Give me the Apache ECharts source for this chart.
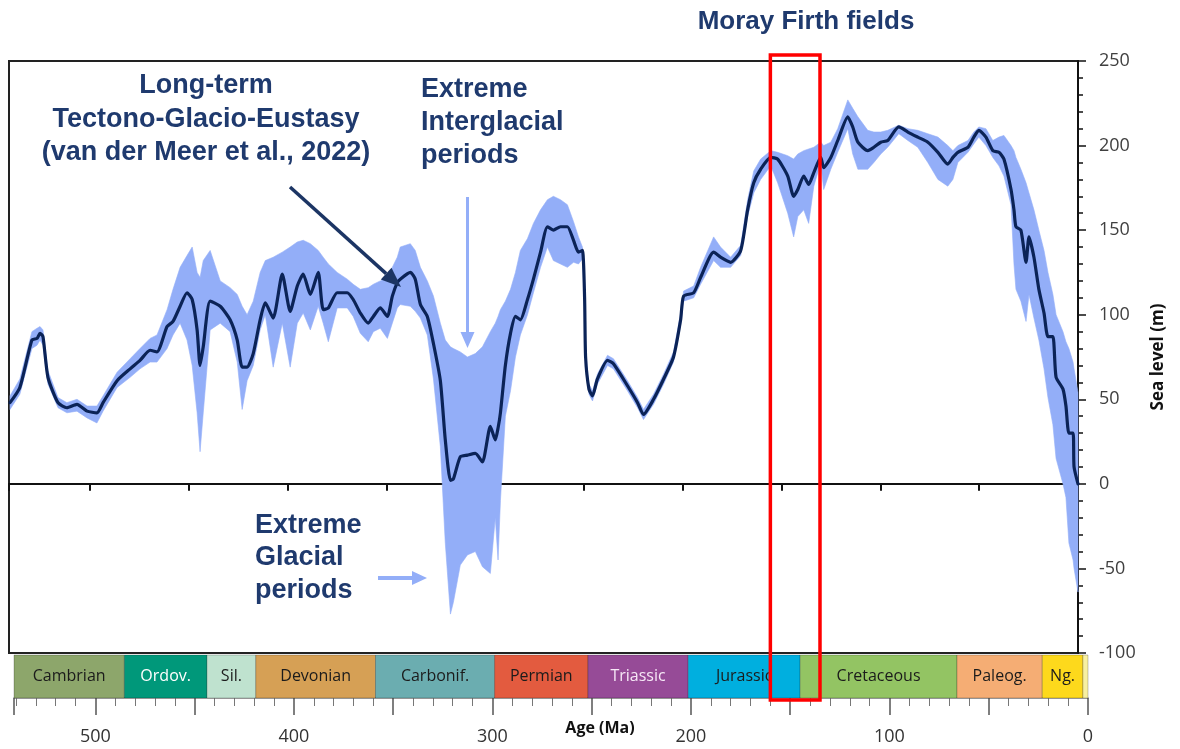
<!DOCTYPE html>
<html>
<head>
<meta charset="utf-8">
<script src="https://cdn.jsdelivr.net/npm/echarts@6/dist/echarts.min.js"></script>
<style>
  html, body { margin: 0; padding: 0; background: #ffffff; }
  #chart { width: 1180px; height: 749px; }
</style>
</head>
<body>
<div id="chart"></div>
<script>
// Phanerozoic long-term sea level (m) against age (Ma)
const ageMa = [540.5, 535.5, 529.4, 526.8, 525.3, 523.8, 521.3, 516.2, 511.7, 506.6, 501.5, 496.5, 493.4, 486.3, 479.7, 474.7, 469.6, 466.1, 461.0, 458.0, 454.4, 450.9, 448.3, 445.8, 444.3, 442.7, 439.2, 434.1, 429.1, 425.5, 423.0, 420.5, 417.4, 413.9, 411.3, 407.3, 402.7, 398.7, 395.1, 392.1, 388.5, 384.5, 382.0, 379.4, 374.9, 369.8, 366.8, 363.2, 359.2, 356.6, 353.1, 349.5, 347.0, 344.5, 343.0, 337.9, 335.4, 332.8, 329.3, 326.2, 322.7, 320.2, 317.6, 316.1, 312.6, 309.0, 305.0, 301.4, 297.4, 294.9, 293.5, 292.3, 289.8, 287.2, 284.7, 282.2, 278.6, 275.6, 272.0, 268.5, 265.5, 261.9, 258.4, 255.3, 252.8, 250.8, 249.7, 249.2, 247.5, 245.7, 243.2, 238.1, 235.1, 228.0, 222.9, 219.9, 214.8, 209.7, 204.7, 201.1, 199.6, 194.5, 191.0, 184.4, 180.9, 175.8, 170.7, 167.2, 164.1, 160.6, 155.5, 152.0, 146.9, 143.9, 141.8, 138.8, 136.3, 133.7, 130.2, 128.7, 125.1, 121.6, 116.5, 114.0, 111.4, 106.4, 103.3, 99.8, 96.3, 90.7, 86.1, 81.1, 76.0, 70.9, 65.9, 63.3, 60.8, 55.7, 52.7, 50.2, 46.6, 43.1, 40.0, 37.5, 33.9, 32.4, 31.4, 28.9, 26.3, 24.8, 22.3, 19.8, 17.2, 15.2, 12.7, 11.1, 7.6, 6.1, 4.6, 2.5, 2.0, 0];

const seaLevel = [48, 57, 85, 86, 89, 87, 63, 48, 45, 47, 43, 42, 48, 61, 68, 73, 79, 78, 93, 96, 105, 113, 109, 91, 70, 81, 108, 105, 97, 85, 69, 69, 77, 97, 107, 98, 124, 102, 117, 124, 112, 125, 103, 104, 113, 113, 109, 101, 95, 99, 104, 99, 111, 119, 121, 125, 121, 106, 99, 83, 61, 26, 2, 3, 16, 17, 18, 13, 34, 26, 33, 42, 70, 89, 99, 97, 109, 121, 137, 152, 150, 152, 152, 144, 137, 138, 110, 75, 56, 52, 62, 73, 71, 58, 48, 41, 50, 62, 75, 97, 111, 113, 122, 137, 134, 131, 138, 162, 178, 186, 193, 192, 182, 170, 174, 182, 177, 184, 193, 187, 193, 203, 217, 211, 202, 197, 199, 202, 203, 211, 208, 205, 202, 196, 189, 193, 196, 199, 205, 209, 205, 197, 196, 192, 174, 162, 152, 150, 131, 146, 134, 115, 101, 87, 87, 63, 56, 46, 30, 30, 10, 0];

const seaLevelHigh = [52, 62, 90, 92, 93, 91, 67, 51, 48, 50, 46, 46, 52, 66, 74, 80, 86, 88, 103, 115, 128, 135, 140, 125, 122, 132, 138, 120, 116, 112, 105, 100, 108, 125, 132, 134, 137, 140, 143, 144, 142, 138, 134, 130, 125, 121, 118, 115, 116, 118, 120, 122, 128, 134, 140, 142, 138, 128, 120, 111, 95, 85, 81, 80, 78, 75, 77, 81, 90, 95, 99, 103, 108, 115, 125, 138, 145, 154, 162, 168, 170, 168, 165, 155, 146, 140, 114, 78, 59, 55, 65, 76, 74, 61, 51, 44, 53, 65, 78, 101, 114, 117, 128, 146, 140, 134, 141, 168, 185, 192, 197, 196, 194, 192, 195, 197, 198, 199, 202, 200, 202, 210, 227, 222, 217, 209, 208, 208, 209, 212, 210, 209, 207, 205, 200, 197, 200, 203, 208, 211, 210, 203, 205, 206, 200, 197, 193, 186, 178, 172, 162, 150, 138, 125, 112, 100, 90, 84, 80, 72, 68, 54];

const seaLevelLow = [44, 53, 80, 82, 85, 82, 59, 45, 42, 43, 39, 36, 43, 57, 63, 68, 72, 72, 80, 88, 95, 85, 70, 42, 19, 42, 91, 95, 90, 72, 44, 61, 70, 91, 100, 69, 95, 69, 95, 101, 91, 105, 95, 84, 104, 104, 99, 89, 84, 90, 92, 86, 95, 104, 106, 105, 102, 98, 88, 62, 22, -35, -77, -70, -48, -42, -40, -49, -53, -20, -45, -10, 40, 55, 75, 88, 100, 113, 128, 140, 132, 130, 128, 131, 130, 133, 107, 72, 53, 49, 59, 70, 68, 55, 45, 38, 47, 59, 72, 94, 108, 110, 118, 132, 128, 128, 135, 158, 172, 180, 188, 178, 160, 146, 158, 162, 154, 176, 190, 174, 186, 196, 210, 195, 186, 186, 190, 195, 199, 207, 203, 199, 190, 180, 176, 180, 190, 196, 201, 205, 200, 193, 188, 182, 165, 130, 115, 108, 96, 112, 98, 85, 68, 51, 35, 15, 0, -8, -35, -45, -50, -64];

// Geological periods shown in the time-scale strip
const periodNames = ['Cambrian', 'Ordov.', 'Sil.', 'Devonian', 'Carbonif.', 'Permian', 'Triassic', 'Jurassic', 'Cretaceous', 'Paleog.', 'Ng.', ''];
const periodStartMa = [541, 485.4, 443.8, 419.2, 358.9, 298.9, 251.9, 201.4, 145, 66, 23.03, 2.58];
const periodEndMa = [485.4, 443.8, 419.2, 358.9, 298.9, 251.9, 201.4, 145, 66, 23.03, 2.58, 0];

// Moray Firth fields age window (Ma)
const morayFirthMa = [160, 135];

// Axis ranges and tick steps
const ageRangeMa = [0, 541];
const seaLevelRange = [-100, 250];
const seaLevelStep = 50;
const ageStep = 50;

// Styling
const periodFill = ['#8DA66B', '#00987A', '#BFE2CF', '#D6A055', '#6BADB0', '#E35B3F', '#964B97', '#00AFDF', '#93C463', '#F5AD74', '#FDD91C', '#F8F0A0'];
const periodInk = ['#1b1b1b', '#ffffff', '#1b1b1b', '#1b1b1b', '#1b1b1b', '#1b1b1b', '#f6e8f6', '#1b1b1b', '#1b1b1b', '#1b1b1b', '#1b1b1b', '#1b1b1b'];
const navy = '#1F3A6E';
const lineNavy = '#0B2357';
const bandBlue = '#93AEF8';

const chart = echarts.init(document.getElementById('chart'), null, { renderer: 'canvas' });

// Uncertainty envelope: one polygon, upper bound left-to-right then lower bound back
function renderEnvelope(params, api) {
  if (params.dataIndex !== 0) return null;
  const upper = ageMa.map((a, i) => api.coord([a, seaLevelHigh[i]]));
  const lower = ageMa.map((a, i) => api.coord([a, seaLevelLow[i]])).reverse();
  return {
    type: 'polygon',
    shape: { points: upper.concat(lower) },
    style: { fill: bandBlue, stroke: bandBlue, lineWidth: 0.6 }
  };
}

function renderPeriod(params, api) {
  const i = params.dataIndex;
  const p0 = api.coord([api.value(0), 1]);
  const p1 = api.coord([api.value(1), 0]);
  return {
    type: 'group',
    children: [
      {
        type: 'rect',
        shape: { x: p0[0], y: p0[1], width: p1[0] - p0[0], height: p1[1] - p0[1] },
        style: { fill: periodFill[i], stroke: 'rgba(0,0,0,0.22)', lineWidth: 1 }
      },
      {
        type: 'text',
        style: {
          x: (p0[0] + p1[0]) / 2,
          y: (p0[1] + p1[1]) / 2,
          text: periodNames[i],
          align: 'center', verticalAlign: 'middle',
          textAlign: 'center', textVerticalAlign: 'middle',
          fill: periodInk[i],
          fontFamily: 'Open Sans', fontSize: 16
        }
      }
    ]
  };
}

chart.setOption({
  animation: false,
  backgroundColor: '#ffffff',
  grid: [
    { left: 9, right: 102, top: 61, bottom: 96, show: true, borderColor: '#222', borderWidth: 2, backgroundColor: 'transparent' },
    { left: 14, right: 92, top: 655, bottom: 51 }
  ],
  xAxis: [
    {
      gridIndex: 0, type: 'value', inverse: true,
      min: ageRangeMa[0], max: ageRangeMa[1], interval: ageStep,
      axisLine: { onZero: true, lineStyle: { color: '#111', width: 2 } },
      axisTick: { show: true, length: 7, lineStyle: { color: '#111', width: 2 } },
      axisLabel: { show: false },
      splitLine: { show: false }
    },
    {
      gridIndex: 1, type: 'value', inverse: true,
      min: ageRangeMa[0], max: ageRangeMa[1], interval: ageStep,
      axisLine: { show: true, lineStyle: { color: '#8a8a8a', width: 1.5 } },
      axisTick: { show: true, length: 17, lineStyle: { color: '#555', width: 1.5 } },
      minorTick: { show: true, splitNumber: 5, length: 8, lineStyle: { color: '#777', width: 1 } },
      axisLabel: {
        margin: 30, showMinLabel: true, showMaxLabel: true,
        formatter: v => (v % 100 === 0 ? String(v) : ''),
        fontFamily: 'Open Sans', fontSize: 18, color: '#333'
      },
      splitLine: { show: false }
    }
  ],
  yAxis: [
    {
      gridIndex: 0, type: 'value', position: 'right',
      min: seaLevelRange[0], max: seaLevelRange[1], interval: seaLevelStep,
      axisLine: { show: true, onZero: false, lineStyle: { color: '#111', width: 2 } },
      axisTick: { show: true, length: 8, lineStyle: { color: '#111', width: 1.5 } },
      minorTick: { show: true, splitNumber: 5, length: 5, lineStyle: { color: '#111', width: 1.5 } },
      splitLine: { show: false },
      axisLabel: { margin: 21, fontFamily: 'Open Sans', fontSize: 18, color: '#404040' },
      name: 'Sea level (m)', nameLocation: 'middle', nameRotate: 90, nameGap: 72,
      nameTextStyle: { fontFamily: 'Open Sans', fontWeight: 'bold', fontSize: 17, color: '#111' }
    },
    { gridIndex: 1, type: 'value', min: 0, max: 1, show: false }
  ],
  series: [
    {
      name: 'range', type: 'custom', xAxisIndex: 0, yAxisIndex: 0,
      renderItem: renderEnvelope,
      data: ageMa.map((a, i) => [a, seaLevelHigh[i], seaLevelLow[i]]),
      encode: { x: 0, y: [1, 2] },
      silent: true, z: 1
    },
    {
      name: 'Sea level', type: 'line', xAxisIndex: 0, yAxisIndex: 0,
      data: ageMa.map((a, i) => [a, seaLevel[i]]),
      symbol: 'none', smooth: 0.2,
      lineStyle: { color: lineNavy, width: 3.2, join: 'round', cap: 'round' }, z: 3
    },
    {
      name: 'periods', type: 'custom', xAxisIndex: 1, yAxisIndex: 1,
      renderItem: renderPeriod,
      data: periodNames.map((n, i) => [periodStartMa[i], periodEndMa[i]]),
      silent: true, clip: false, z: 2
    }
  ]
});

// Annotations
function arrow(x1, y1, x2, y2, color, width, headLen, headHalf) {
  const dx = x2 - x1, dy = y2 - y1;
  const len = Math.sqrt(dx * dx + dy * dy);
  const ux = dx / len, uy = dy / len;
  const bx = x2 - ux * headLen, by = y2 - uy * headLen;
  return [
    { type: 'line', shape: { x1: x1, y1: y1, x2: bx, y2: by }, style: { stroke: color, lineWidth: width }, z: 10 },
    { type: 'polygon', shape: { points: [[x2, y2], [bx - uy * headHalf, by + ux * headHalf], [bx + uy * headHalf, by - ux * headHalf]] }, style: { fill: color }, z: 10 }
  ];
}

function label(text, x, y, align, size) {
  return {
    type: 'text', z: 10,
    style: {
      text: text, x: x, y: y,
      align: align, verticalAlign: 'middle',
      textAlign: align, textVerticalAlign: 'middle',
      fill: navy, fontFamily: 'Liberation Sans', fontWeight: 'bold', fontSize: size || 27
    }
  };
}

const mfLeft = chart.convertToPixel({ gridIndex: 1 }, [morayFirthMa[0], 1]);
const mfRight = chart.convertToPixel({ gridIndex: 1 }, [morayFirthMa[1], 0]);

const elements = [
  label('Moray Firth fields', 806, 22, 'center', 26),
  label('Long-term', 206, 86, 'center'),
  label('Tectono-Glacio-Eustasy', 206, 120, 'center'),
  label('(van der Meer et al., 2022)', 206, 153, 'center'),
  label('Extreme', 421, 90, 'left'),
  label('Interglacial', 421, 123, 'left'),
  label('periods', 421, 156, 'left'),
  label('Extreme', 255, 526, 'left'),
  label('Glacial', 255, 558, 'left'),
  label('periods', 255, 591, 'left'),
  {
    type: 'text', z: 10,
    style: {
      text: 'Age (Ma)', x: 600, y: 728,
      align: 'center', verticalAlign: 'middle', textAlign: 'center', textVerticalAlign: 'middle',
      fill: '#111', fontFamily: 'Open Sans', fontWeight: 'bold', fontSize: 16
    }
  },
  {
    type: 'rect', z: 20,
    shape: { x: mfLeft[0], y: 55, width: mfRight[0] - mfLeft[0], height: mfRight[1] + 2 - 55 },
    style: { fill: 'none', stroke: '#FF0000', lineWidth: 3.5 }
  }
].concat(
  arrow(290, 187, 401, 287, '#1C3564', 3.5, 20, 8),
  arrow(467.5, 197, 467.5, 348, bandBlue, 3, 16, 7),
  arrow(378, 578, 427, 578, bandBlue, 4, 15, 7)
);

chart.setOption({ graphic: { elements: elements } });
</script>
</body>
</html>
